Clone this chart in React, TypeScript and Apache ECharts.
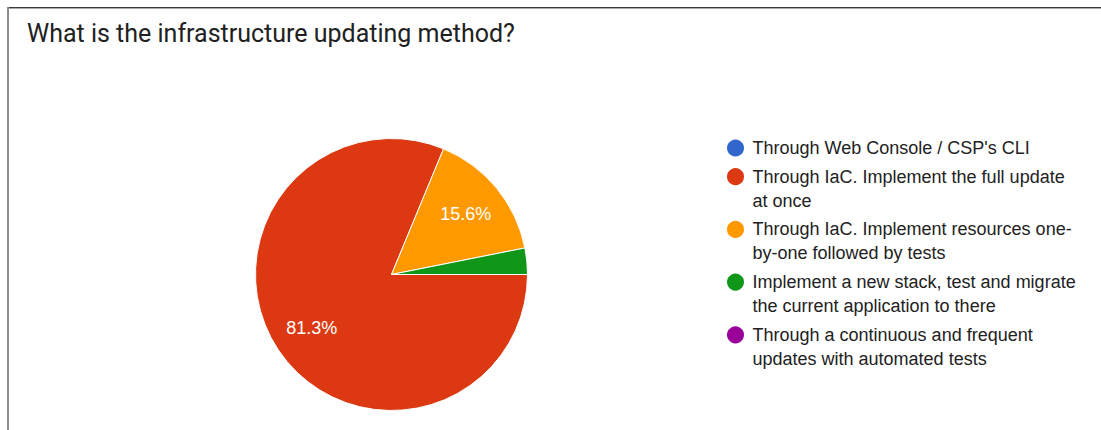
import React, { useEffect, useRef } from "react";
import * as echarts from "echarts";

const titleText = "What is the infrastructure updating method?";
const categories = [
  "Through Web Console / CSP's CLI",
  "Through IaC. Implement the full update\nat once",
  "Through IaC. Implement resources one-\nby-one followed by tests",
  "Implement a new stack, test and migrate\nthe current application to there",
  "Through a continuous and frequent\nupdates with automated tests",
];
const responses = [0, 26, 5, 1, 0];
const colors = ["#3366cc", "#dc3912", "#ff9900", "#109618", "#990099"];

export default function App() {
  const ref = useRef<HTMLDivElement>(null);
  useEffect(() => {
    if (!ref.current) return;
    const chart = echarts.init(ref.current, null, { renderer: "svg" });
    const data = categories.map((name, i) => ({ name, value: responses[i] }));
    chart.setOption({
      animation: false,
      color: colors,
      title: {
        text: titleText,
        left: 22,
        top: 16,
        textStyle: {
          fontFamily: "Roboto",
          fontSize: 25,
          fontWeight: "normal",
          color: "#212121",
        },
      },
      legend: {
        orient: "vertical",
        left: 720,
        top: 131,
        icon: "circle",
        itemWidth: 24,
        itemHeight: 19,
        itemGap: -19.3,
        selectedMode: false,
        formatter: (name: string) => (name.includes("\n") ? "\n" + name : name),
        textStyle: {
          fontFamily: "Liberation Sans",
          fontSize: 18,
          lineHeight: 24,
          color: "#222222",
        },
        data: categories,
      },
      graphic: [
        { type: "rect", shape: { x: 7, y: 7, width: 1094, height: 1 }, style: { fill: "#3a3a3a" }, silent: true },
        { type: "rect", shape: { x: 7, y: 8, width: 1094, height: 1 }, style: { fill: "#a8a8a8" }, silent: true },
        { type: "rect", shape: { x: 7, y: 7, width: 2, height: 423 }, style: { fill: "#8c8c8c" }, silent: true },
      ],
      series: [
        {
          type: "pie",
          center: [391.5, 274.5],
          radius: [0, 136],
          startAngle: 0,
          clockwise: true,
          silent: true,
          label: { show: false },
          labelLine: { show: false },
          itemStyle: { borderColor: "#ffffff", borderWidth: 1 },
          data,
        },
        {
          type: "pie",
          center: [391.5, 274.5],
          radius: [50, 136],
          startAngle: 0,
          clockwise: true,
          silent: true,
          labelLine: { show: false },
          itemStyle: { color: "rgba(0,0,0,0)" },
          label: {
            show: true,
            position: "inside",
            color: "#ffffff",
            fontFamily: "Liberation Sans",
            fontSize: 18,
            formatter: (p: any) => (p.percent < 5 ? "" : p.percent.toFixed(1) + "%"),
          },
          data,
        },
      ],
    });
    return () => chart.dispose();
  }, []);
  return (
    <div
      ref={ref}
      style={{ position: "absolute", left: 0, top: 0, width: 1101, height: 430, background: "#ffffff" }}
    />
  );
}
